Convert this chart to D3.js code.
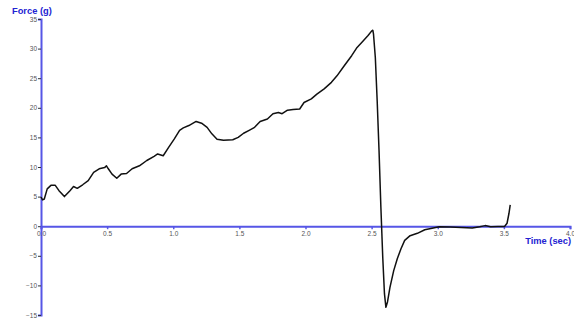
<!DOCTYPE html>
<html>
<head>
<meta charset="utf-8">
<script src="https://cdn.jsdelivr.net/npm/d3@7"></script>
<style>
  body { margin: 0; background: #fff; }
  svg { display: block; }
</style>
</head>
<body>
<svg id="chart" width="574" height="320"></svg>
<script>
// Force trace over time
const timeSec = [0, 0.012, 0.025, 0.047, 0.075, 0.108, 0.136, 0.177, 0.219, 0.246, 0.274, 0.315, 0.357, 0.398, 0.44, 0.481, 0.495, 0.509, 0.537, 0.573, 0.606, 0.647, 0.689, 0.744, 0.8, 0.855, 0.882, 0.924, 0.965, 1.007, 1.048, 1.076, 1.118, 1.173, 1.214, 1.256, 1.292, 1.331, 1.38, 1.45, 1.491, 1.532, 1.574, 1.615, 1.657, 1.712, 1.754, 1.795, 1.823, 1.864, 1.906, 1.956, 1.989, 2.044, 2.086, 2.141, 2.196, 2.238, 2.293, 2.349, 2.39, 2.432, 2.473, 2.501, 2.509, 2.514, 2.528, 2.542, 2.556, 2.57, 2.584, 2.597, 2.608, 2.62, 2.639, 2.667, 2.694, 2.722, 2.75, 2.791, 2.846, 2.902, 2.957, 3.012, 3.095, 3.178, 3.261, 3.317, 3.358, 3.4, 3.455, 3.505, 3.524, 3.538, 3.548];
const forceG = [4.9, 4.45, 4.6, 6.3, 6.9, 6.9, 6.0, 5.0, 6.0, 6.7, 6.4, 7.0, 7.7, 9.1, 9.7, 9.9, 10.2, 9.7, 8.8, 8.1, 8.8, 8.9, 9.7, 10.2, 11.1, 11.8, 12.2, 11.9, 13.3, 14.7, 16.2, 16.6, 17.0, 17.7, 17.4, 16.7, 15.6, 14.7, 14.5, 14.6, 15.0, 15.7, 16.2, 16.7, 17.7, 18.1, 19.0, 19.2, 19.0, 19.6, 19.7, 19.8, 20.9, 21.5, 22.3, 23.2, 24.3, 25.4, 27.1, 28.8, 30.2, 31.2, 32.2, 33.0, 33.1, 32.5, 28.5, 21.2, 12.8, 3.2, -5.2, -11.4, -13.7, -12.8, -10.3, -7.5, -5.5, -3.8, -2.4, -1.6, -1.2, -0.6, -0.35, -0.1, -0.15, -0.2, -0.3, -0.1, 0.1, -0.1, -0.05, -0.05, 0.5, 2.1, 3.6];

const xTicks = [0, 0.5, 1.0, 1.5, 2.0, 2.5, 3.0, 3.5, 4.0];
const yTicks = [-15, -10, -5, 0, 5, 10, 15, 20, 25, 30, 35];

const axisColor = "#5656e6";
const titleColor = "#2323d2";
const font = "Liberation Sans, Arial, sans-serif";

const svg = d3.select("#chart");
const x = d3.scaleLinear().domain([0, 4]).range([41, 570]);
const y = d3.scaleLinear().domain([-15, 35]).range([315, 19]);

// y axis
const yAxis = svg.append("g")
  .attr("transform", `translate(${x(0)},0)`)
  .call(d3.axisLeft(y).tickValues(yTicks).tickSize(3).tickPadding(1).tickFormat(d3.format("d")));
yAxis.select(".domain").attr("stroke", axisColor).attr("stroke-width", 2);
yAxis.selectAll(".tick line").attr("stroke", "#333");
yAxis.selectAll(".tick text").attr("fill", "#555").attr("font-family", font).attr("font-size", 6.5);

// x axis along zero force
const xAxis = svg.append("g")
  .attr("transform", `translate(0,${y(0)})`)
  .call(d3.axisBottom(x).tickValues(xTicks).tickSize(3).tickPadding(2).tickFormat(d3.format(".1f")));
xAxis.select(".domain").attr("stroke", axisColor).attr("stroke-width", 2);
xAxis.selectAll(".tick line").attr("stroke", axisColor).attr("stroke-width", 1.5);
xAxis.selectAll(".tick text").attr("fill", "#555").attr("font-family", font).attr("font-size", 6.5);

// force curve
const pts = timeSec.map((t, i) => [t, forceG[i]]);
svg.append("path")
  .datum(pts)
  .attr("fill", "none")
  .attr("stroke", "#111")
  .attr("stroke-width", 1.5)
  .attr("stroke-linejoin", "round")
  .attr("d", d3.line().x(d => x(d[0])).y(d => y(d[1])));

// axis titles
svg.append("text")
  .attr("x", 12).attr("y", 13.5)
  .attr("fill", titleColor)
  .attr("font-family", font)
  .attr("font-weight", "bold").attr("font-size", 9.3)
  .text("Force (g)");
svg.append("text")
  .attr("x", 571).attr("y", 244)
  .attr("text-anchor", "end")
  .attr("fill", titleColor)
  .attr("font-family", font)
  .attr("font-weight", "bold").attr("font-size", 9.3)
  .text("Time (sec)");
</script>
</body>
</html>
